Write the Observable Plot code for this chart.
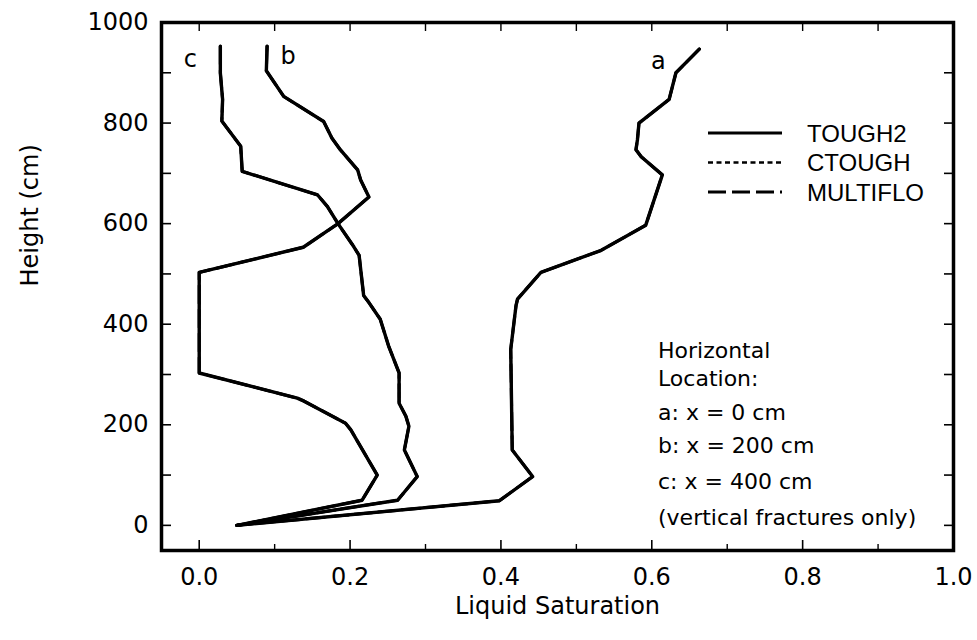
<!DOCTYPE html>
<html>
<head>
<meta charset="utf-8">
<script src="https://cdn.jsdelivr.net/npm/d3@7"></script>
<script src="https://cdn.jsdelivr.net/npm/@observablehq/plot@0.6"></script>
<style>
  body { margin: 0; background: #fff; }
  #chart { position: relative; width: 977px; height: 640px; }
  #chart > svg { position: absolute; left: 0; top: 0; }
  #overlay { pointer-events: none; }
</style>
</head>
<body>
<div id="chart"></div>
<script>
// Simulation codes compared (their profiles coincide at this scale)
const models = ["TOUGH2", "CTOUGH", "MULTIFLO"];

// Horizontal locations and their liquid-saturation profiles, top to bottom
const locations = ["a", "b", "c"];
const locationNotes = ["a: x = 0 cm", "b: x = 200 cm", "c: x = 400 cm"];

const heightA = [947, 900, 847, 800, 767, 747, 733, 697, 597, 547, 503, 450, 437, 350, 150, 97, 49, 0];
const satA    = [0.663, 0.632, 0.623, 0.583, 0.581, 0.579, 0.586, 0.614, 0.592, 0.533, 0.453, 0.422, 0.420, 0.413, 0.415, 0.442, 0.398, 0.050];

const heightB = [953, 904, 853, 803, 770, 747, 707, 687, 653, 600, 554, 537, 457, 443, 410, 357, 303, 243, 217, 197, 150, 97, 50, 0];
const satB    = [0.090, 0.089, 0.112, 0.165, 0.176, 0.187, 0.210, 0.214, 0.225, 0.184, 0.205, 0.212, 0.218, 0.225, 0.240, 0.251, 0.265, 0.265, 0.274, 0.278, 0.272, 0.289, 0.263, 0.050];

const heightC = [953, 900, 847, 804, 754, 704, 657, 634, 600, 553, 503, 303, 253, 247, 203, 190, 100, 50, 0];
const satC    = [0.028, 0.028, 0.031, 0.030, 0.055, 0.057, 0.157, 0.170, 0.184, 0.138, 0.000, 0.000, 0.130, 0.139, 0.194, 0.201, 0.236, 0.216, 0.050];

// Axis ticks
const xMajorTicks = [0.0, 0.2, 0.4, 0.6, 0.8, 1.0];
const xMinorTicks = [0.1, 0.3, 0.5, 0.7, 0.9];
const xTopTicks   = [0.0, 0.1, 0.2, 0.3, 0.4, 0.5, 0.6, 0.7, 0.8, 0.9];
const yMajorTicks = [0, 200, 400, 600, 800, 1000];
const yAllTicks   = [0, 100, 200, 300, 400, 500, 600, 700, 800, 900, 1000];

const xTitle = "Liquid Saturation";
const yTitle = "Height (cm)";
const noteHeader = ["Horizontal", "Location:"];
const noteFooter = "(vertical fractures only)";

// Long-format table: one row per model, location and grid height
const profiles = { a: [heightA, satA], b: [heightB, satB], c: [heightC, satC] };
const rows = [];
for (const model of models) {
  for (const loc of locations) {
    const [hs, ss] = profiles[loc];
    hs.forEach((h, i) => rows.push({ model, loc, key: model + loc, h, s: ss[i] }));
  }
}
const topPoint = loc => [{ h: profiles[loc][0][0], s: profiles[loc][1][0], loc }];

const dashFor = { TOUGH2: null, CTOUGH: "5,3.5", MULTIFLO: "18,6" };
const widthFor = { TOUGH2: 3.4, CTOUGH: 2.4, MULTIFLO: 3.0 };

const font = "DejaVu Sans";
const blank = () => "";

// Inward-pointing ticks: the tick is shifted back across the frame edge by its own length
const inwardX = (ticks, anchor, size, w) => Plot.axisX(ticks, {
  anchor, tickSize: size, dy: anchor === "bottom" ? -size : size,
  tickFormat: blank, label: null, strokeWidth: w
});
const inwardY = (ticks, anchor, size, w) => Plot.axisY(ticks, {
  anchor, tickSize: size, dx: anchor === "left" ? size : -size,
  tickFormat: blank, label: null, strokeWidth: w
});

const plot = Plot.plot({
  width: 977,
  height: 640,
  marginLeft: 161,
  marginRight: 24,
  marginTop: 22,
  marginBottom: 90,
  x: { domain: [-0.05, 1.0] },
  y: { domain: [-50, 1000] },
  style: { fontFamily: font, background: "white", color: "black", overflow: "visible" },
  marks: [
    inwardX(xMajorTicks, "bottom", 10, 1.6),
    inwardX(xMinorTicks, "bottom", 6, 1.4),
    inwardX(xTopTicks, "top", 8, 1.4),
    inwardY(yAllTicks, "left", 10, 1.6),
    inwardY(yAllTicks, "right", 10, 1.6),
    // tick labels
    Plot.axisX(xMajorTicks, { anchor: "bottom", tickSize: 0, tickPadding: 17, tickFormat: d3.format(".1f"), label: null, fontSize: 24 }),
    Plot.axisY(yMajorTicks, { anchor: "left", tickSize: 0, tickPadding: 13, tickFormat: d => String(d), label: null, fontSize: 24 }),
    // axis titles
    Plot.text([xTitle], { frameAnchor: "bottom", dy: 63, fontSize: 24, text: d => d }),
    Plot.text([yTitle], { frameAnchor: "left", dx: -131, rotate: -90, fontSize: 24, text: d => d }),
    // saturation profiles, one line per code and location
    ...models.map(m => Plot.line(rows.filter(r => r.model === m), {
      x: "s", y: "h", z: "key",
      stroke: "black",
      strokeWidth: widthFor[m],
      strokeDasharray: dashFor[m],
      strokeLinejoin: "round",
      curve: "linear"
    })),
    // curve labels next to each profile's top end
    Plot.text(topPoint("a"), { x: "s", y: "h", text: "loc", dx: -41, dy: 12, fontSize: 24 }),
    Plot.text(topPoint("b"), { x: "s", y: "h", text: "loc", dx: 21, dy: 10, fontSize: 24 }),
    Plot.text(topPoint("c"), { x: "s", y: "h", text: "loc", dx: -30, dy: 13, fontSize: 24 }),
    Plot.frame({ stroke: "black", strokeWidth: 3.5 })
  ]
});

const chart = document.getElementById("chart");
chart.appendChild(plot);

// Legend and location notes drawn in an overlay on top of the plot area
const overlay = d3.select(chart).append("svg")
  .attr("id", "overlay")
  .attr("width", 977).attr("height", 640);

const legend = overlay.append("g").attr("transform", "translate(708,133)");
models.forEach((m, i) => {
  const g = legend.append("g").attr("transform", `translate(0,${i * 29.5})`);
  g.append("line")
    .attr("x1", 0).attr("x2", 74).attr("y1", 0).attr("y2", 0)
    .attr("stroke", "black")
    .attr("stroke-width", m === "CTOUGH" ? 2.4 : 3)
    .attr("stroke-dasharray", dashFor[m]);
  g.append("text")
    .attr("x", 99).attr("y", 0)
    .attr("dominant-baseline", "central")
    .attr("font-family", "Liberation Sans")
    .attr("font-size", 24)
    .text(m);
});

const noteLines = [...noteHeader, ...locationNotes, noteFooter];
const noteY = [350, 378, 412, 445, 481, 517];
const notes = overlay.append("g").attr("font-family", font).attr("font-size", 22);
noteLines.forEach((t, i) => {
  notes.append("text")
    .attr("x", 658).attr("y", noteY[i])
    .attr("dominant-baseline", "central")
    .text(t);
});
</script>
</body>
</html>
